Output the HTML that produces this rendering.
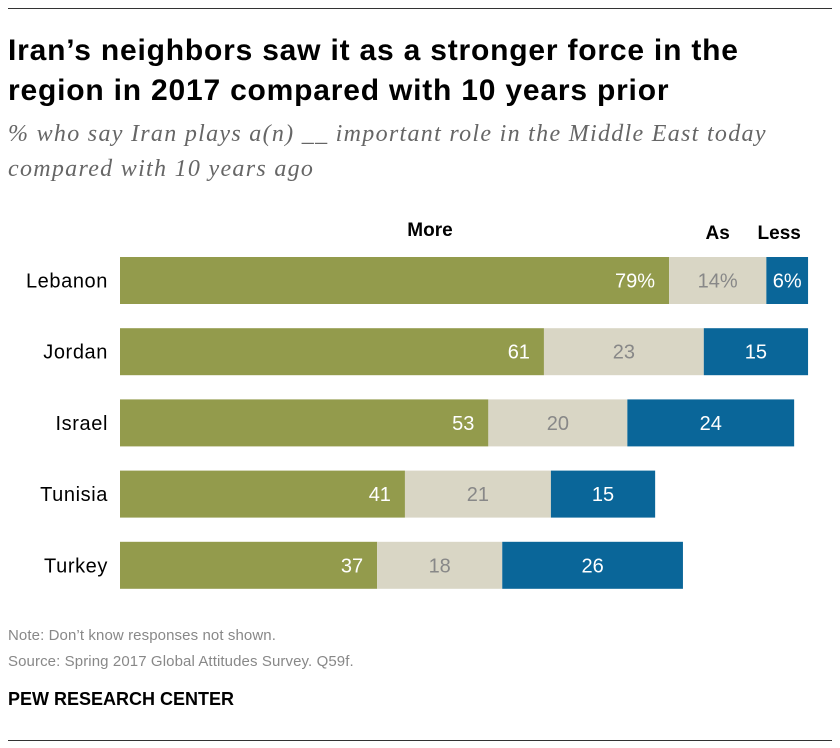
<!DOCTYPE html>
<html><head><meta charset="utf-8"><style>
body{margin:0;width:840px;height:748px;background:#fff;font-family:"Liberation Sans",sans-serif;position:relative;overflow:hidden}
.t{position:absolute;white-space:nowrap}
</style></head><body>
<div style="position:absolute;left:8px;top:8px;width:824px;height:1px;background:#333"></div>
<div class="t" style="left:8px;top:31px;font-size:30px;font-weight:bold;line-height:40px;color:#000;letter-spacing:0.8px">Iran’s neighbors saw it as a stronger force in the<br>region in 2017 compared with 10 years prior</div>
<div class="t" style="left:8px;top:117px;font-family:'Liberation Serif',serif;font-style:italic;font-size:24px;line-height:35px;color:#666;letter-spacing:1.3px">% who say Iran plays a(n) __ important role in the Middle East today<br>compared with 10 years ago</div>
<svg id="chart" style="position:absolute;left:0;top:0" width="840" height="748"></svg>
<div class="t" style="left:8px;top:623px;font-size:15px;line-height:26px;color:#888;letter-spacing:0.1px">Note: Don’t know responses not shown.<br>Source: Spring 2017 Global Attitudes Survey. Q59f.</div>
<div class="t" style="left:8px;top:689px;font-size:18px;font-weight:bold;color:#000;letter-spacing:0px">PEW RESEARCH CENTER</div>
<div style="position:absolute;left:8px;top:740px;width:824px;height:1px;background:#333"></div>
<script>
const countries=["Lebanon","Jordan","Israel","Tunisia","Turkey"];
const more=[79,61,53,41,37];
const as=[14,23,20,21,18];
const less=[6,15,24,15,26];
const series=[more,as,less];
const colors=["#939b4c","#d9d6c5","#0a6699"];
const textColors=["#fff","#888","#fff"];
const headers=["More","As","Less"];
const x0=120,unit=6.95,y0=257,step=71.2,bh=47;
const xs=v=>v*unit, ys=i=>y0+i*step;
const svg=document.getElementById('chart');const NS="http://www.w3.org/2000/svg";
function mk(t,a){const e=document.createElementNS(NS,t);for(const k in a)e.setAttribute(k,a[k]);svg.appendChild(e);return e;}
countries.forEach((c,i)=>{
 const lab=mk('text',{x:108,y:ys(i)+bh/2+7,'text-anchor':'end','font-size':20,fill:'#000','letter-spacing':0.6});
 
 
 lab.textContent=c;
 let x=x0;
 series.forEach((s,j)=>{
  const w=xs(s[i]);
  const r=mk('rect',{x:x,y:ys(i),width:w,height:bh,fill:colors[j]});
  
  
  const tx=j===0?x+w-14:x+w/2;
  const t=mk('text',{x:tx,y:ys(i)+bh/2+7,'text-anchor':j===0?'end':'middle','font-size':20,fill:textColors[j]});
  
  
  t.textContent=s[i]+(i===0?'%':'');
  if(i===0){
   const hx=j===0?430:x+w/2+(j===2?-8:0);
   const h=mk('text',{x:hx,y:j===0?236:239,'text-anchor':'middle','font-size':19,'font-weight':'bold'});
   
   
   h.textContent=headers[j];
  }
  x+=w;
 });
});
</script>
</body></html>
